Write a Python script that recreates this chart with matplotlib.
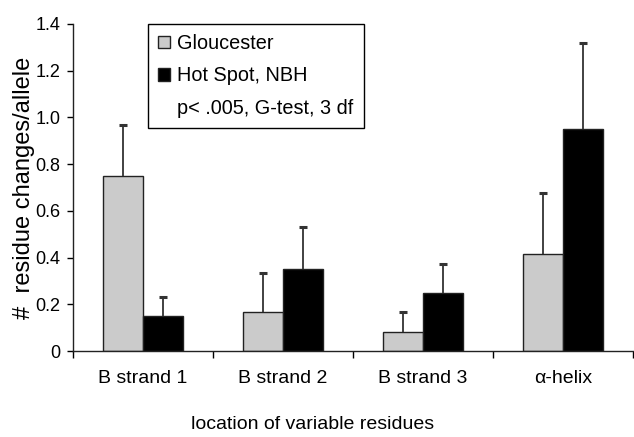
import matplotlib
matplotlib.use('Agg')
import matplotlib.pyplot as plt
import numpy as np
from matplotlib.patches import Patch

plt.rcParams['font.family'] = ['Liberation Sans', 'DejaVu Sans']

# data
categories = ['B strand 1', 'B strand 2', 'B strand 3', '\u03b1-helix']
gloucester = [0.75, 0.167, 0.083, 0.415]
gloucester_err = [0.217, 0.166, 0.083, 0.261]
hotspot = [0.15, 0.351, 0.25, 0.952]
hotspot_err = [0.08, 0.18, 0.121, 0.365]
yticks = [0, 0.2, 0.4, 0.6, 0.8, 1.0, 1.2, 1.4]
ytick_labels = ['0', '0.2', '0.4', '0.6', '0.8', '1.0', '1.2', '1.4']

fig = plt.figure(figsize=(6.34, 4.37), dpi=100)
ax = fig.add_axes([73 / 634, 86 / 437, 560 / 634, 327 / 437])

x = np.arange(len(categories))
w = 0.288
ax.bar(x - w / 2, gloucester, w, color='#cbcbcb', edgecolor='#222222', linewidth=1.0, zorder=2)
ax.bar(x + w / 2, hotspot, w, color='black', edgecolor='#222222', linewidth=1.0, zorder=2)

# upper-only error bars with a cap at the top
for xs, vals, errs in [(x - w / 2, gloucester, gloucester_err), (x + w / 2, hotspot, hotspot_err)]:
    tops = np.array(vals) + np.array(errs)
    ax.vlines(xs, vals, tops, color='#333333', linewidth=1.3, zorder=3)
    ax.plot(xs, tops, linestyle='none', marker='_', markersize=5.5,
            markeredgewidth=2.2, color='#333333', zorder=3)

ax.set_xlim(-0.5, 3.5)
ax.set_ylim(0, 1.4)
ax.set_yticks(yticks)
ax.set_yticklabels(ytick_labels, fontsize=13)
ax.set_xticks(x)
ax.set_xticklabels(categories, fontsize=14)
ax.tick_params(axis='x', which='major', length=0, pad=14)
ax.set_xticks(np.arange(-0.5, 4, 1), minor=True)
ax.tick_params(axis='x', which='minor', length=5, width=1, direction='out')
ax.tick_params(axis='y', length=4, width=1, direction='out', pad=5)

for s in ['top', 'right']:
    ax.spines[s].set_visible(False)
for s in ['left', 'bottom']:
    ax.spines[s].set_linewidth(1.0)
    ax.spines[s].set_color('#222222')

ax.set_ylabel('#  residue changes/allele', fontsize=17)
ax.yaxis.set_label_coords(-0.067, 0.5)
ax.set_xlabel('location of variable residues', fontsize=14)
ax.xaxis.set_label_coords((313 - 73) / 560, -0.20)

handles = [Patch(facecolor='#cbcbcb', edgecolor='#222222', linewidth=1.0),
           Patch(facecolor='black', edgecolor='#222222', linewidth=1.0),
           Patch(facecolor='none', edgecolor='none')]
labels = ['Gloucester', 'Hot Spot, NBH', 'p< .005, G-test, 3 df']
leg = ax.legend(handles, labels, loc='upper left', bbox_to_anchor=(148 / 634, 1 - 24 / 437),
                bbox_transform=fig.transFigure, fontsize=14.3, frameon=True, fancybox=False,
                framealpha=1, edgecolor='black', handlelength=0.6, handleheight=0.58,
                handletextpad=0.35, labelspacing=0.66, borderpad=0.52, borderaxespad=0)
leg.get_frame().set_linewidth(1.0)

fig.savefig('out.png', dpi=100)
